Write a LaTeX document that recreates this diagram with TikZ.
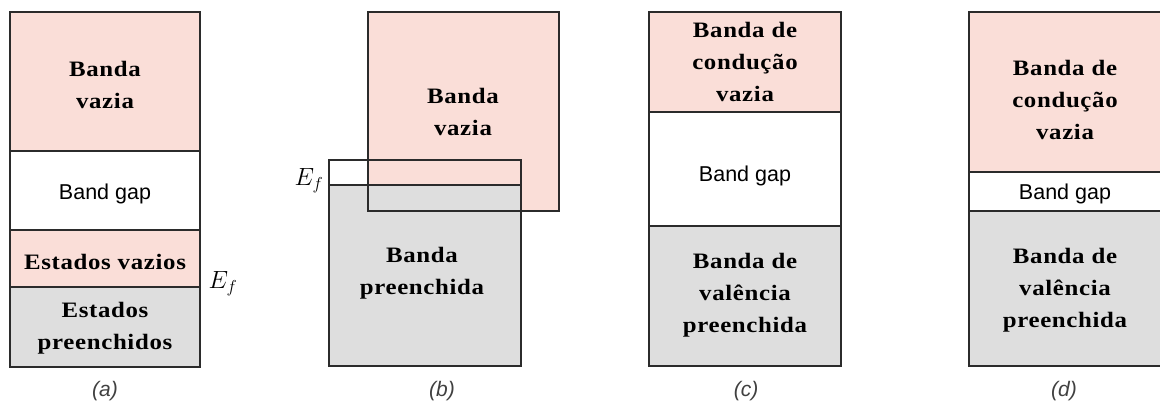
\documentclass[tikz,border=0pt]{standalone}
\usepackage{fontspec}
\setmainfont{Liberation Serif}
\newfontfamily\bandserif[FakeStretch=1.13,LetterSpace=3]{Liberation Serif}
\newfontfamily\gapsans{Liberation Sans}
\definecolor{pinkband}{HTML}{FADED8}
\definecolor{greyband}{HTML}{DEDEDE}
\definecolor{linec}{HTML}{2B2B2B}
\definecolor{capc}{HTML}{404040}
\begin{document}
\begin{tikzpicture}[x=1pt,y=-1pt,line width=1.4pt,
  bandline/.style={draw=linec},
  pinkfill/.style={fill=pinkband},
  greyfill/.style={fill=greyband},
  serif/.style={font=\bandserif\bfseries\fontsize{22}{32}\selectfont,align=center,inner sep=0pt,text=black},
  gaplabel/.style={font=\gapsans\fontsize{21.5}{24}\selectfont,inner sep=0pt,text=black},
  caplabel/.style={font=\gapsans\itshape\fontsize{21}{24}\selectfont,inner sep=0pt,text=capc},
  fermi/.style={font=\fontsize{25}{28}\selectfont,inner sep=0pt}]
\useasboundingbox (0,0) rectangle (1160,407);
% ---------- (a)
\path[pinkfill] (10,12) rectangle (200,151);
\path[pinkfill] (10,230) rectangle (200,287);
\path[greyfill] (10,287) rectangle (200,367);
\draw[bandline] (10,12) rectangle (200,367);
\draw[bandline] (10,151) -- (200,151);
\draw[bandline] (10,230) -- (200,230);
\draw[bandline] (10,287) -- (200,287);
\node[serif] (aempty) at (105,84.5) {Banda\\vazia};
\node[gaplabel] (agap) at (105,194) {Band gap};
\node[serif] (astates) at (105,261.5) {Estados vazios};
\node[serif] (afilled) at (105,328.5) {Estados\\preenchidos};
\node[fermi] (aef) at (223,284) {$E_f$};
\node[caplabel] (acap) at (105,391) {(a)};
% ---------- (b)
\path[pinkfill] (368,12) rectangle (559,211);
\path[greyfill] (329,185) rectangle (521,366);
\draw[bandline] (368,12) rectangle (559,211);
\draw[bandline] (329,160) rectangle (521,366);
\draw[bandline] (329,185) -- (521,185);
\node[serif] (bempty) at (463,112) {Banda\\vazia};
\node[serif] (bfilled) at (422,273) {Banda\\preenchida};
\node[fermi] (bef) at (309,181) {$E_f$};
\node[caplabel] (bcap) at (442,391) {(b)};
% ---------- (c)
\path[pinkfill] (649,12) rectangle (841,112);
\path[greyfill] (649,226) rectangle (841,366);
\draw[bandline] (649,12) rectangle (841,366);
\draw[bandline] (649,112) -- (841,112);
\draw[bandline] (649,226) -- (841,226);
\node[serif] (ccond) at (745,61.5) {Banda de\\condução\\vazia};
\node[gaplabel] (cgap) at (745,175.5) {Band gap};
\node[serif] (cval) at (745,295) {Banda de\\valência\\preenchida};
\node[caplabel] (ccap) at (746,391) {(c)};
% ---------- (d)
\path[pinkfill] (969,12) rectangle (1162,172);
\path[greyfill] (969,211) rectangle (1162,366);
\draw[bandline] (969,12) rectangle (1162,366);
\draw[bandline] (969,172) -- (1162,172);
\draw[bandline] (969,211) -- (1162,211);
\node[serif] (dcond) at (1065,99.5) {Banda de\\condução\\vazia};
\node[gaplabel] (dgap) at (1065,193.5) {Band gap};
\node[serif] (dval) at (1065,290) {Banda de\\valência\\preenchida};
\node[caplabel] (dcap) at (1064,391) {(d)};
\end{tikzpicture}
\end{document}
